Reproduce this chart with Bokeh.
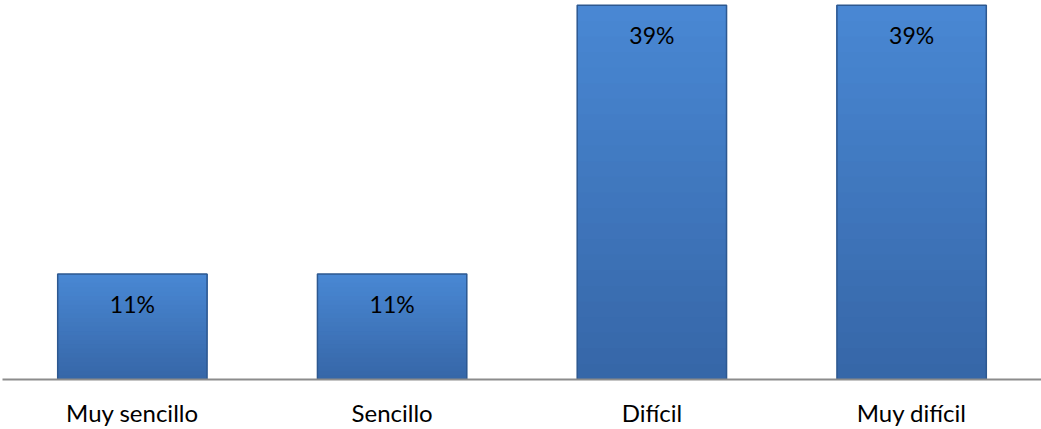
from bokeh.plotting import figure
from bokeh.models import ColumnDataSource, Range1d, FactorRange
from bokeh.core.properties import value
from bokeh.embed import file_html
from bokeh.resources import INLINE

categories = ["Muy sencillo", "Sencillo", "Difícil", "Muy difícil"]
percentages = [11, 11, 39, 39]
labels = [f"{v}%" for v in percentages]

src = ColumnDataSource(dict(cat=categories, val=percentages, lab=labels))

p = figure(x_range=FactorRange(*categories, range_padding=0), y_range=Range1d(0, 39.5),
           width=1041, height=429, output_backend="svg", toolbar_location=None,
           min_border_left=2, min_border_right=0, min_border_top=0, min_border_bottom=0)

# vertical gradient: overlapping slices relative to each bar's own height
bottom_rgb = (0x36, 0x66, 0xA7)
top_rgb = (0x49, 0x88, 0xD4)
n_slices = 24
for i in range(n_slices):
    f0 = i / n_slices
    t = (i + 0.5) / n_slices
    col = "#%02x%02x%02x" % tuple(int(round(b + (tp - b) * t)) for b, tp in zip(bottom_rgb, top_rgb))
    p.vbar(x=categories, bottom=[v * f0 for v in percentages], top=percentages,
           width=0.575, fill_color=col, line_color=None)

p.vbar(x="cat", top="val", width=0.575, source=src,
       fill_color=None, line_color="#2d5890", line_width=1.5)

p.text(x="cat", y="val", text="lab", source=src, text_align="center", text_baseline="middle",
       y_offset=30, text_font=value("Lato"), text_font_size="23px", text_color="#000000")

p.yaxis.visible = False
p.xgrid.visible = False
p.ygrid.visible = False
p.outline_line_color = None
p.xaxis.axis_line_color = "#8c8c8c"
p.xaxis.axis_line_width = 2
p.xaxis.major_tick_line_color = None
p.xaxis.minor_tick_line_color = None
p.xaxis.major_label_standoff = 12
p.xaxis.major_label_text_line_height = 1.0
p.xaxis.major_label_text_font = "Lato"
p.xaxis.major_label_text_font_size = "24px"
p.xaxis.major_label_text_color = "#000000"

open("out.html", "w").write(file_html(p, INLINE))
